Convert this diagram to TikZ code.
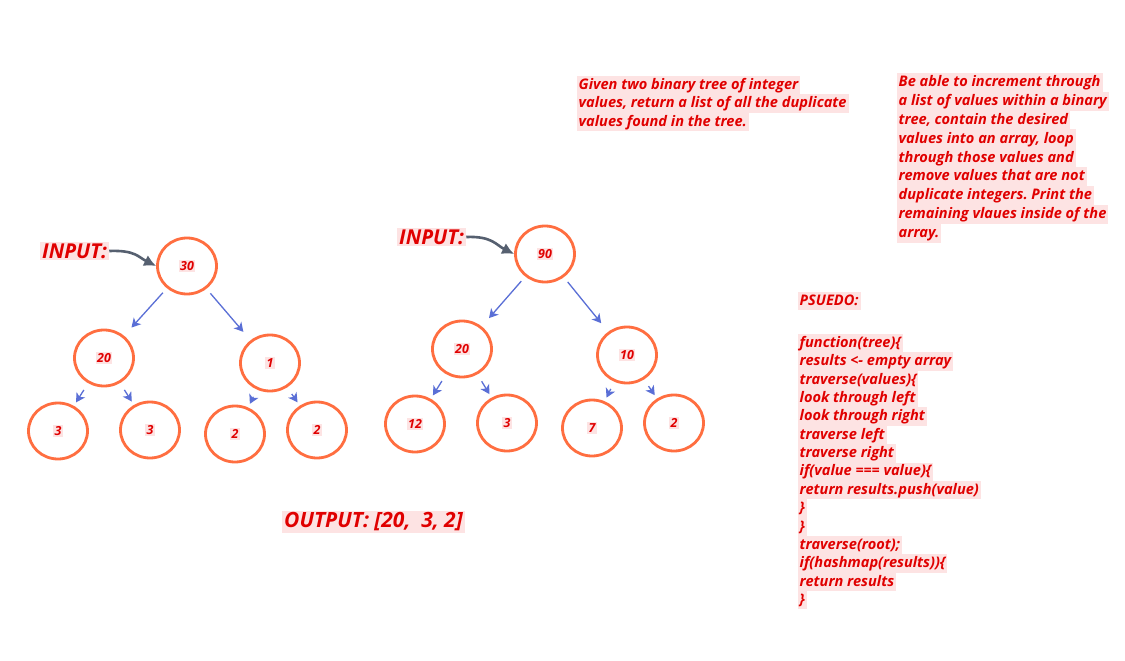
\documentclass[tikz,border=0pt]{standalone}
\usepackage{fontspec}
\setmainfont{Open Sans}
\usetikzlibrary{shapes.geometric,arrows.meta}
\definecolor{ring}{HTML}{FF6E40}
\definecolor{edgeblue}{HTML}{5A6FD6}
\definecolor{inarrow}{HTML}{566070}
\definecolor{txtred}{HTML}{E00000}
\definecolor{hlpink}{HTML}{FDE3E3}
\frenchspacing
\newcommand\hlln[1]{{\setlength\fboxsep{0pt}\colorbox{hlpink}{\rule[-0.27\baselineskip]{0pt}{\baselineskip}\kern1.5pt#1\kern2pt}}}
\newcommand\hlv[1]{{\setlength\fboxsep{1.5pt}\colorbox{hlpink}{#1}}}
\newcommand\hlbig[1]{{\setlength\fboxsep{2pt}\colorbox{hlpink}{#1}}}
\tikzset{
  txt/.style={inner sep=0pt, align=left, text=txtred},
  bigtxt/.style={inner sep=0pt, text=txtred, font=\fontsize{20.5}{24}\selectfont\bfseries\itshape},
  tnode/.style={ellipse, draw=ring, line width=2.8pt, minimum width=59pt, minimum height=56pt, inner sep=0pt,
     text=txtred, font=\fontsize{12.5}{15}\selectfont\bfseries\itshape},
  tedge/.style={draw=edgeblue, line width=1.3pt, -{Stealth[length=9pt,width=10pt,inset=2.5pt]}},
  lvlone/.style={tedge, shorten <=6pt, shorten >=11pt},
  lvltwo/.style={tedge, shorten <=8pt, shorten >=4pt},
  inarr/.style={draw=inarrow, line width=2.6pt, -{Latex[length=12pt,width=12pt]}}
}
\begin{document}
\begin{tikzpicture}[x=1pt,y=-1pt]
\fill[white] (0,0) rectangle (1125,661);
\useasboundingbox (0,0) rectangle (1125,661);

% tree 1
\node[tnode] (a30) at (187,266) {\hlv{30}};
\node[tnode] (a20) at (104,358) {\hlv{20}};
\node[tnode] (a1) at (270,363) {\hlv{1}};
\node[tnode] (a3l) at (58,431) {\hlv{3}};
\node[tnode] (a3r) at (150,430) {\hlv{3}};
\node[tnode] (a2l) at (235,434) {\hlv{2}};
\node[tnode] (a2r) at (317,430) {\hlv{2}};
\draw[lvlone] (a30) -- (a20);
\draw[lvlone] (a30) -- (a1);
\draw[lvltwo] (a20) -- (a3l);
\draw[lvltwo] (a20) -- (a3r);
\draw[lvltwo] (a1) -- (a2l);
\draw[lvltwo] (a1) -- (a2r);

% tree 2
\node[tnode] (b90) at (545,254) {\hlv{90}};
\node[tnode] (b20) at (462,349) {\hlv{20}};
\node[tnode] (b10) at (627,355) {\hlv{10}};
\node[tnode] (b12) at (415,424) {\hlv{12}};
\node[tnode] (b3) at (507,423) {\hlv{3}};
\node[tnode] (b7) at (592,428) {\hlv{7}};
\node[tnode] (b2) at (674,423) {\hlv{2}};
\draw[lvlone] (b90) -- (b20);
\draw[lvlone] (b90) -- (b10);
\draw[lvltwo] (b20) -- (b12);
\draw[lvltwo] (b20) -- (b3);
\draw[lvltwo] (b10) -- (b7);
\draw[lvltwo] (b10) -- (b2);

% input labels
\node[bigtxt, anchor=west] (in1) at (40,251) {\hlbig{INPUT:}};
\node[bigtxt, anchor=west] (in2) at (397,237) {\hlbig{INPUT:}};
\draw[inarr] (in1.east) .. controls +(26,-1) and +(-18,-9) .. (a30.west);
\draw[inarr] (in2.east) .. controls +(26,-1) and +(-18,-9) .. (b90.west);

% output
\node[bigtxt, anchor=west, font=\fontsize{21}{24}\selectfont\bfseries\itshape] (out) at (282,522) {\hlbig{OUTPUT: [20,\ \ 3, 2]}};

% description
\node[txt, anchor=north west, font=\fontsize{14.6}{18.5}\selectfont\bfseries\itshape] (desc) at (577,75.5) {%
\hlln{Given two binary tree of integer}\\
\hlln{values, return a list of all the duplicate}\\
\hlln{values found in the tree.}};

\node[txt, anchor=north west, font=\fontsize{14.6}{18.9}\selectfont\bfseries\itshape] (goal) at (897,72.5) {%
\hlln{Be able to increment through}\\
\hlln{a list of values within a binary}\\
\hlln{tree, contain the desired}\\
\hlln{values into an array, loop}\\
\hlln{through those values and}\\
\hlln{remove values that are not}\\
\hlln{duplicate integers. Print the}\\
\hlln{remaining vlaues inside of the}\\
\hlln{array.}};

% pseudo
\node[txt, anchor=west, font=\fontsize{14.6}{18.4}\selectfont\bfseries\itshape] (ps) at (798,301) {\hlln{PSUEDO:}};
\node[txt, anchor=north west, font=\fontsize{14.6}{18.36}\selectfont\bfseries\itshape] (code) at (798,333.8) {%
\hlln{function(tree)\{}\\
\hlln{results <- empty array}\\
\hlln{traverse(values)\{}\\
\hlln{look through left}\\
\hlln{look through right}\\
\hlln{traverse left}\\
\hlln{traverse right}\\
\hlln{if(value === value)\{}\\
\hlln{return results.push(value)}\\
\hlln{\}}\\
\hlln{\}}\\
\hlln{traverse(root);}\\
\hlln{if(hashmap(results))\{}\\
\hlln{return results}\\
\hlln{\}}};
\end{tikzpicture}
\end{document}
